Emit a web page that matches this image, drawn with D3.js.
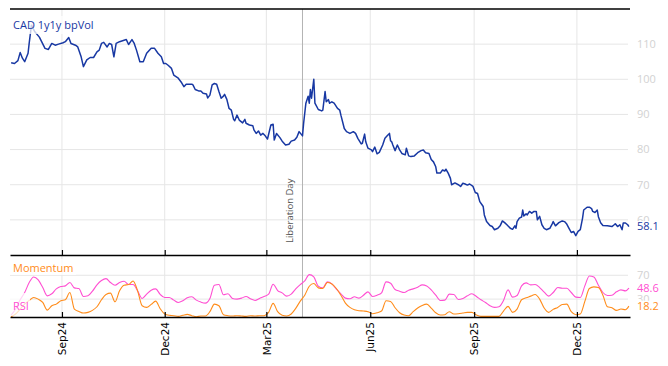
<!DOCTYPE html>
<html>
<head>
<meta charset="utf-8">
<script src="https://cdn.jsdelivr.net/npm/d3@7"></script>
<style>
  body { margin: 0; background: #fff; }
  svg { display: block; font-family: 'Open Sans', sans-serif; }
</style>
</head>
<body>
<div id="chart"></div>
<script>
// CAD 1y1y bpVol (main panel)
const mainDates = [
  '2024-07-18','2024-07-21','2024-07-24','2024-07-26','2024-07-28','2024-07-30','2024-08-02','2024-08-03','2024-08-05','2024-08-08',
  '2024-08-12','2024-08-17','2024-08-20','2024-08-23','2024-08-26','2024-08-29','2024-09-02','2024-09-04','2024-09-07','2024-09-09',
  '2024-09-13','2024-09-15','2024-09-18','2024-09-20','2024-09-23','2024-09-26','2024-09-29','2024-10-02','2024-10-04','2024-10-06',
  '2024-10-08','2024-10-11','2024-10-13','2024-10-15','2024-10-17','2024-10-19','2024-10-22','2024-10-26','2024-10-28','2024-10-30',
  '2024-11-02','2024-11-04','2024-11-06','2024-11-09','2024-11-12','2024-11-15','2024-11-19','2024-11-22','2024-11-25','2024-11-28',
  '2024-11-30','2024-12-02','2024-12-04','2024-12-07','2024-12-09','2024-12-13','2024-12-16','2024-12-18','2024-12-20','2024-12-25',
  '2024-12-26','2024-12-28','2024-12-31','2025-01-02','2025-01-04','2025-01-07','2025-01-08','2025-01-10','2025-01-12','2025-01-14',
  '2025-01-16','2025-01-18','2025-01-20','2025-01-22','2025-01-23','2025-01-25','2025-01-27','2025-01-29','2025-01-31','2025-02-01',
  '2025-02-03','2025-02-05','2025-02-08','2025-02-10','2025-02-11','2025-02-14','2025-02-17','2025-02-18','2025-02-20','2025-02-22',
  '2025-02-24','2025-02-26','2025-02-28','2025-03-02','2025-03-05','2025-03-07','2025-03-08','2025-03-10','2025-03-13','2025-03-15',
  '2025-03-18','2025-03-21','2025-03-23','2025-03-26','2025-03-28','2025-03-30','2025-04-02','2025-04-03','2025-04-05','2025-04-07',
  '2025-04-08','2025-04-09','2025-04-10','2025-04-12','2025-04-13','2025-04-16','2025-04-19','2025-04-20','2025-04-22','2025-04-23',
  '2025-04-25','2025-04-26','2025-04-28','2025-04-30','2025-05-03','2025-05-05','2025-05-06','2025-05-09','2025-05-11','2025-05-14',
  '2025-05-17','2025-05-19','2025-05-21','2025-05-24','2025-05-25','2025-05-27','2025-05-28','2025-05-30','2025-06-02','2025-06-03',
  '2025-06-05','2025-06-07','2025-06-09','2025-06-12','2025-06-14','2025-06-16','2025-06-18','2025-06-19','2025-06-20','2025-06-21',
  '2025-06-23','2025-06-25','2025-06-27','2025-06-29','2025-07-02','2025-07-03','2025-07-05','2025-07-07','2025-07-10','2025-07-13',
  '2025-07-16','2025-07-18','2025-07-20','2025-07-23','2025-07-25','2025-07-27','2025-07-29','2025-07-30','2025-08-02','2025-08-04',
  '2025-08-06','2025-08-07','2025-08-09','2025-08-11','2025-08-12','2025-08-15','2025-08-18','2025-08-20','2025-08-22','2025-08-24',
  '2025-08-26','2025-08-28','2025-08-31','2025-09-02','2025-09-04','2025-09-06','2025-09-09','2025-09-10','2025-09-12','2025-09-15',
  '2025-09-17','2025-09-19','2025-09-22','2025-09-24','2025-09-26','2025-09-28','2025-09-30','2025-10-03','2025-10-05','2025-10-07',
  '2025-10-08','2025-10-09','2025-10-11','2025-10-13','2025-10-14','2025-10-15','2025-10-17','2025-10-18','2025-10-20','2025-10-22',
  '2025-10-24','2025-10-26','2025-10-27','2025-10-29','2025-10-31','2025-11-02','2025-11-04','2025-11-07','2025-11-09','2025-11-10',
  '2025-11-12','2025-11-15','2025-11-18','2025-11-20','2025-11-22','2025-11-24','2025-11-26','2025-11-28','2025-11-30','2025-12-02',
  '2025-12-04','2025-12-06','2025-12-07','2025-12-10','2025-12-12','2025-12-14','2025-12-15','2025-12-17','2025-12-19','2025-12-20',
  '2025-12-22','2025-12-24','2025-12-28','2026-01-01','2026-01-03','2026-01-04','2026-01-06','2026-01-08','2026-01-10','2026-01-11',
  '2026-01-13','2026-01-15','2026-01-16'
];
const mainValues = [
  104.7,104.5,105.3,107.6,106,105,107.4,110.3,115.4,113.5,
  112,108.8,108.5,110.2,109.7,110,110.4,110.7,111.9,110.2,
  109.7,109.2,106.4,103.6,105.5,106.2,106.2,107.8,108.3,110.2,
  110.5,109.2,110.2,109.9,106.4,110.2,110.7,111.1,111.3,109.9,
  111.3,110.2,108.3,105,105,107.4,108.8,108.8,107.4,106.4,
  104.5,104.5,104,103.1,101.2,100.3,99,97.9,98.6,98.6,
  98.4,97.1,96.7,96.7,96,95.8,94.7,95.5,98.4,98.8,
  98.6,96.5,94.6,95.2,95.7,94.3,91.7,91.2,88.6,88.2,
  89.8,88.4,87.6,88.6,87.5,87,86.8,85.6,84.6,85.3,
  84.1,84.6,83.9,83,87,87.2,82.7,84.6,83.4,82.4,
  81.3,81.5,82.4,82.7,83.5,85.1,83.9,87.5,93.2,95.2,
  93.2,97.1,94.6,100,93.2,91.4,91,91.2,96.5,93.6,
  94.2,93.2,93.6,93.2,91.7,91.2,89.8,86,85.1,84.6,
  85.1,84.6,83.2,81.6,81.8,84.4,82.2,80.4,79.9,79.4,
  80.7,78.8,79.2,81.3,83.2,83.9,84.6,82.5,82.2,81.3,
  79.7,81.3,79.9,78.9,78.5,80.4,78.2,78,78.2,79.1,
  79.7,79.9,79.1,78.9,77.2,76.5,75.1,73.3,73.3,74.2,
  73.9,74.4,73.3,71.8,70,70.5,70,69.5,70.4,70.2,
  69.9,70.2,69.5,67.8,67.5,65.2,63.8,61.4,59.5,58.4,
  58.1,57.2,57.6,58.3,59.7,59.2,58.6,57.6,57.3,58.3,
  57.6,59.5,60.5,60.8,62.8,61.1,61.7,61.4,62.4,61.9,
  62.4,62.4,60,61,58.6,57.6,57.2,57.6,58.8,59.5,
  58.3,59.2,59.7,59.5,58.8,57.6,56.4,56.7,55.5,56.7,
  57.2,60.5,62.8,63.6,63.6,63.2,62.4,62.1,62.8,60.9,
  59.2,58.4,58.3,58.1,58.6,58.9,58.1,58.6,57.2,59.1,
  59.1,58.6,58.1
];

// Momentum / RSI (lower panel)
const indDates = [
  '2024-07-18','2024-07-22','2024-07-26','2024-07-30','2024-08-03','2024-08-07','2024-08-11','2024-08-15','2024-08-19','2024-08-23',
  '2024-08-27','2024-08-31','2024-09-04','2024-09-08','2024-09-12','2024-09-16','2024-09-20','2024-09-24','2024-09-28','2024-10-02',
  '2024-10-06','2024-10-10','2024-10-14','2024-10-18','2024-10-22','2024-10-26','2024-10-30','2024-11-03','2024-11-07','2024-11-11',
  '2024-11-15','2024-11-19','2024-11-23','2024-11-27','2024-12-01','2024-12-05','2024-12-09','2024-12-13','2024-12-17','2024-12-21',
  '2024-12-25','2024-12-29','2025-01-02','2025-01-06','2025-01-10','2025-01-14','2025-01-18','2025-01-22','2025-01-26','2025-01-30',
  '2025-02-03','2025-02-07','2025-02-11','2025-02-15','2025-02-19','2025-02-23','2025-02-27','2025-03-03','2025-03-07','2025-03-11',
  '2025-03-15','2025-03-19','2025-03-23','2025-03-27','2025-03-31','2025-04-04','2025-04-08','2025-04-12','2025-04-16','2025-04-20',
  '2025-04-24','2025-04-28','2025-05-02','2025-05-06','2025-05-10','2025-05-14','2025-05-18','2025-05-22','2025-05-26','2025-05-30',
  '2025-06-03','2025-06-07','2025-06-11','2025-06-15','2025-06-19','2025-06-23','2025-06-27','2025-07-01','2025-07-05','2025-07-09',
  '2025-07-13','2025-07-17','2025-07-21','2025-07-25','2025-07-29','2025-08-02','2025-08-06','2025-08-10','2025-08-14','2025-08-18',
  '2025-08-22','2025-08-26','2025-08-30','2025-09-03','2025-09-07','2025-09-11','2025-09-15','2025-09-19','2025-09-23','2025-09-27',
  '2025-10-01','2025-10-05','2025-10-09','2025-10-13','2025-10-17','2025-10-21','2025-10-25','2025-10-29','2025-11-02','2025-11-06',
  '2025-11-10','2025-11-14','2025-11-18','2025-11-22','2025-11-26','2025-11-30','2025-12-04','2025-12-08','2025-12-12','2025-12-16',
  '2025-12-20','2025-12-24','2025-12-28','2026-01-01','2026-01-05','2026-01-09','2026-01-13','2026-01-16'
];
const rsiValues = [
  3.3,13.3,28.9,41.1,57.8,67.2,62.2,49.4,35.5,38.9,
  47.2,51.1,52.2,57.8,48.9,47.8,34.4,35.5,43.3,53.9,
  61.1,64.4,57.8,53.3,57.8,60,54.4,54.4,43.9,31.1,
  38.3,45,47.2,37.8,32.8,32.8,28.3,24.4,27.2,32.2,
  33.9,28.3,25,23.3,31.1,53.3,54.4,37.2,38.9,31.1,
  30,31.7,34.4,30.5,27.8,31.1,34.4,38.3,55,44.4,
  40.5,35,38.3,47.2,54.4,60.5,71.1,67.2,51.6,48.9,
  58.9,55.5,46.6,38.9,31.7,30.5,33.9,31.7,36.6,42.2,
  34.4,36.6,40.5,58.9,56.6,46.1,43.3,41.1,45,47.2,
  50,53.9,52.2,45.5,36.6,27.8,28.3,38.3,37.8,29.4,
  31.1,35.5,38.9,34.4,28.9,24.4,18.9,16.1,17.2,27.8,
  45.5,33.3,36.1,52.2,57.2,53.9,54.4,49.4,41.7,35,
  41.1,49.4,48.3,48.3,41.1,33.3,32.8,52.2,68.9,67.2,
  53.3,41.1,36.1,36.6,42.2,45.5,43.9,48.6
];
const momValues = [
  0.5,5,13.3,21.6,27.8,32.8,30,24.4,11.6,18.9,
  21.6,27.2,28.9,41.1,13.3,9.4,6.6,7.8,11.1,17.2,
  28.9,37.8,40,25.5,43.9,53.3,54.4,60.5,43.9,18.9,
  16.1,21.1,26.6,13.9,5,2.8,2.2,1.1,2.8,4.4,
  2.2,0.5,1.6,1.6,8.9,21.6,18.9,3.9,2.2,1.6,
  2.2,1.6,1.1,2.2,1.6,2.2,2.2,7.8,22.8,8.9,
  2.8,1.6,5,14.4,26.6,36.6,51.6,56.1,48.9,47.8,
  57.8,55.5,47.8,36.6,23.3,16.1,12.2,10.5,10,8.9,
  5.5,7.2,10,27.2,26.1,15.5,7.2,3.3,2.2,8.9,
  15,19.4,21.6,15,7.2,3.3,3.9,8.9,5,5.5,
  6.6,7.8,7.8,3.3,1.1,1.1,1.1,1.1,1.1,10,
  17.8,7.8,13.3,28.9,32.2,35,37.8,30,15,7.8,
  12.8,16.1,21.1,21.6,8.9,3.9,5,26.1,47.8,50.5,
  49.4,36.6,17.2,15.5,11.1,13.3,12.2,18.2
];

const timeTicks = ['2024-09-01','2024-12-01','2025-03-01','2025-06-01','2025-09-01','2025-12-01'];
const mainTicks = [60, 70, 80, 90, 100, 110];
const indTicks = [30, 70];
const eventDate = '2025-04-02';
const eventLabel = 'Liberation Day';

(function(){
  const width = 668, height = 366;
  const left = 10, right = 630, top = 9, mid = 255, bottom = 317;
  const blue = '#1838a3', pink = '#ff4fd2', orange = '#ff8c1a';
  const parse = d3.timeParse('%Y-%m-%d');

  const svg = d3.select('#chart').append('svg')
    .attr('width', width)
    .attr('height', height);

  const x = d3.scaleTime()
    .domain([parse('2024-07-17'), parse('2026-01-17')])
    .range([left, right]);
  const y = d3.scaleLinear().domain([50, 120]).range([mid, top]);
  const y2 = d3.scaleLinear().domain([0, 104]).range([bottom, mid]);

  const main = mainDates.map((d,i) => ({date: parse(d), v: mainValues[i]}));
  const rsi = indDates.map((d,i) => ({date: parse(d), v: rsiValues[i]}));
  const mom = indDates.map((d,i) => ({date: parse(d), v: momValues[i]}));
  const ticks = timeTicks.map(parse);

  // grid
  const grid = svg.append('g').attr('stroke', '#e6e6e6').attr('stroke-width', 1);
  ticks.forEach(t => {
    grid.append('line')
      .attr('x1', x(t)).attr('x2', x(t))
      .attr('y1', top).attr('y2', bottom);
  });
  mainTicks.forEach(v => {
    grid.append('line')
      .attr('x1', left).attr('x2', right - 2)
      .attr('y1', y(v)).attr('y2', y(v));
  });
  indTicks.forEach(v => {
    grid.append('line')
      .attr('x1', left).attr('x2', right - 2)
      .attr('y1', y2(v)).attr('y2', y2(v));
  });

  // event marker
  const ex = x(parse(eventDate));
  svg.append('line')
    .attr('x1', ex).attr('x2', ex)
    .attr('y1', top).attr('y2', bottom)
    .attr('stroke', '#b4b4b4')
    .attr('stroke-width', 1);
  svg.append('text')
    .attr('transform', `translate(${ex - 9},243) rotate(-90)`)
    .attr('font-size', '9.5px')
    .attr('fill', '#555')
    .text(eventLabel);

  // lines
  const lineMain = d3.line().x(d => x(d.date)).y(d => y(d.v));
  const lineInd = d3.line().x(d => x(d.date)).y(d => y2(d.v)).curve(d3.curveMonotoneX);

  svg.append('path').datum(rsi)
    .attr('d', lineInd)
    .attr('fill', 'none')
    .attr('stroke', pink)
    .attr('stroke-width', 1.1);
  svg.append('path').datum(mom)
    .attr('d', lineInd)
    .attr('fill', 'none')
    .attr('stroke', orange)
    .attr('stroke-width', 1.1);
  svg.append('path').datum(main)
    .attr('d', lineMain)
    .attr('fill', 'none')
    .attr('stroke', blue)
    .attr('stroke-width', 1.5)
    .attr('stroke-linejoin', 'round');

  // legend labels with translucent boxes
  function label(txt, tx, ty, color, bx, by, bw, bh){
    svg.append('rect')
      .attr('x', bx).attr('y', by)
      .attr('width', bw).attr('height', bh)
      .attr('fill', '#fff')
      .attr('fill-opacity', 0.75);
    svg.append('text')
      .attr('x', tx).attr('y', ty)
      .attr('font-size', '11px')
      .attr('fill', color)
      .text(txt);
  }
  label('CAD 1y1y bpVol', 13, 29, blue, 10, 16, 87, 18);
  label('Momentum', 13, 272, orange, 10, 259, 66, 16);
  label('RSI', 13, 310, pink, 10, 293, 20, 23);

  // right-hand value labels
  const rlab = svg.append('g')
    .attr('font-size', '11px');
  mainTicks.forEach(v => {
    rlab.append('text')
      .attr('x', 637).attr('y', y(v)).attr('dy', '0.35em')
      .attr('fill', '#d2d2d2')
      .text(v);
  });
  indTicks.forEach(v => {
    rlab.append('text')
      .attr('x', 637).attr('y', y2(v)).attr('dy', '0.35em')
      .attr('fill', '#d2d2d2')
      .text(v);
  });
  function lastLabel(val, yy, color){
    rlab.append('rect')
      .attr('x', 634).attr('y', yy - 5.5)
      .attr('width', 30).attr('height', 11)
      .attr('fill', '#fff');
    rlab.append('text')
      .attr('x', 637).attr('y', yy).attr('dy', '0.35em')
      .attr('fill', color)
      .text(val.toFixed(1));
  }
  lastLabel(mainValues[mainValues.length - 1], y(mainValues[mainValues.length - 1]), blue);
  lastLabel(rsiValues[rsiValues.length - 1], y2(rsiValues[rsiValues.length - 1]), pink);
  lastLabel(momValues[momValues.length - 1], y2(momValues[momValues.length - 1]), orange);

  // frame lines + axes
  svg.append('line')
    .attr('x1', left).attr('x2', right)
    .attr('y1', top).attr('y2', top)
    .attr('stroke', '#000').attr('stroke-width', 1.3);

  const axMid = svg.append('g')
    .attr('transform', `translate(0,${mid})`)
    .call(d3.axisBottom(x).tickValues(ticks).tickSize(-5).tickSizeOuter(0).tickFormat(''));
  const axBot = svg.append('g')
    .attr('transform', `translate(0,${bottom})`)
    .call(d3.axisBottom(x).tickValues(ticks).tickSize(-5).tickSizeOuter(0).tickFormat(d3.timeFormat('%b%y')));
  [axMid, axBot].forEach(a => {
    a.select('.domain').attr('stroke', '#000').attr('stroke-width', 1.3);
    a.selectAll('.tick line').attr('stroke', '#000').attr('stroke-width', 1.2);
  });
  axBot.selectAll('.tick text')
    .attr('transform', 'rotate(-90)')
    .attr('x', -5)
    .attr('y', 0)
    .attr('dy', '0.35em')
    .attr('text-anchor', 'end')
    .attr('fill', '#000')
    .attr('font-family', "'DejaVu Sans', sans-serif")
    .attr('font-size', '10.5px');
})();
</script>
</body>
</html>
